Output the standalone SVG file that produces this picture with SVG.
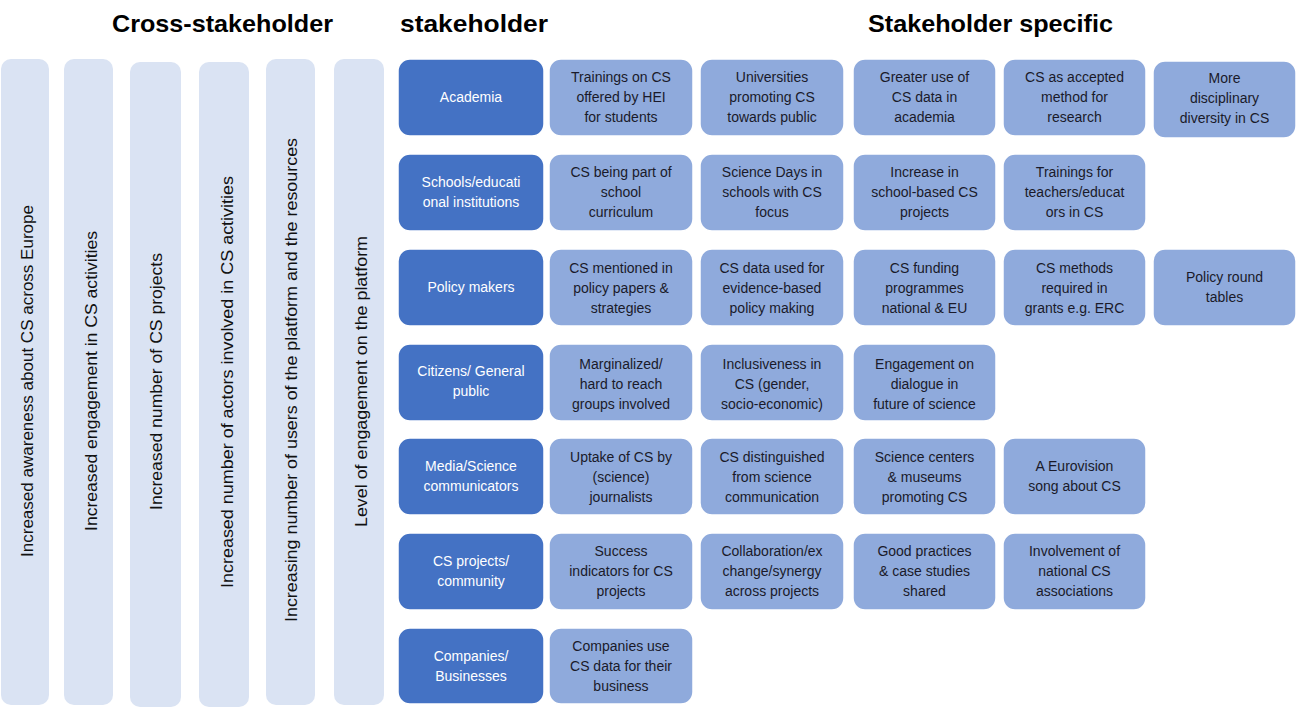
<svg xmlns="http://www.w3.org/2000/svg" width="1296" height="707" viewBox="0 0 1296 707">
<style>
.hdr{font-family:"Liberation Sans",Arial,sans-serif;font-weight:bold;font-size:24px;fill:#000}
.bar{fill:#DAE3F3}
.vt{font-family:"Liberation Sans",Arial,sans-serif;font-size:17px;fill:#111;text-anchor:middle}
.sh{fill:#4472C4;stroke:#ffffff;stroke-width:1.5}
.it{fill:#8FAADC;stroke:#ffffff;stroke-width:1.5}
.st{font-family:"Liberation Sans",Arial,sans-serif;font-size:14px;fill:#ffffff;text-anchor:middle}
.tt{font-family:"Liberation Sans",Arial,sans-serif;font-size:14px;fill:#1a1a2a;text-anchor:middle}
</style>
<rect width="1296" height="707" fill="#ffffff"/>
<g id="headers">
<text class="hdr" x="112" y="32" textLength="221" lengthAdjust="spacingAndGlyphs">Cross-stakeholder</text>
<text class="hdr" x="400" y="32" textLength="148" lengthAdjust="spacingAndGlyphs">stakeholder</text>
<text class="hdr" x="868" y="32" textLength="245" lengthAdjust="spacingAndGlyphs">Stakeholder specific</text>
</g>
<g id="cross">
<g id="bar1"><rect class="bar" x="1" y="59" width="48" height="646" rx="10"/><text class="vt" transform="translate(33,381) rotate(-90)" textLength="352" lengthAdjust="spacingAndGlyphs">Increased awareness about CS across Europe</text></g>
<g id="bar2"><rect class="bar" x="64" y="59" width="49" height="646" rx="10"/><text class="vt" transform="translate(97,381) rotate(-90)" textLength="300" lengthAdjust="spacingAndGlyphs">Increased engagement in CS activities</text></g>
<g id="bar3"><rect class="bar" x="130" y="62" width="51" height="645" rx="10"/><text class="vt" transform="translate(162,381.5) rotate(-90)" textLength="257" lengthAdjust="spacingAndGlyphs">Increased number of CS projects</text></g>
<g id="bar4"><rect class="bar" x="199" y="62" width="50" height="645" rx="10"/><text class="vt" transform="translate(233,382) rotate(-90)" textLength="412" lengthAdjust="spacingAndGlyphs">Increased number of actors involved in CS activities</text></g>
<g id="bar5"><rect class="bar" x="266" y="59" width="49" height="646" rx="10"/><text class="vt" transform="translate(297,380) rotate(-90)" textLength="484" lengthAdjust="spacingAndGlyphs">Increasing number of users of the platform and the resources</text></g>
<g id="bar6"><rect class="bar" x="334" y="59" width="50" height="646" rx="10"/><text class="vt" transform="translate(367,381.5) rotate(-90)" textLength="291" lengthAdjust="spacingAndGlyphs">Level of engagement on the platform</text></g>
</g>
<g id="connectors"></g>
<g id="row1">
<g id="academia"><rect class="sh" x="398" y="59" width="146" height="77" rx="12"/><text class="st" x="471" y="102">Academia</text></g>
<g id="r1c1"><rect class="it" x="549" y="59" width="144" height="77" rx="12"/><text class="tt"><tspan x="621" y="82">Trainings on CS</tspan><tspan x="621" y="102">offered by HEI</tspan><tspan x="621" y="122">for students</tspan></text></g>
<g id="r1c2"><rect class="it" x="700" y="59" width="144" height="77" rx="12"/><text class="tt"><tspan x="772" y="82">Universities</tspan><tspan x="772" y="102">promoting CS</tspan><tspan x="772" y="122">towards public</tspan></text></g>
<g id="r1c3"><rect class="it" x="853" y="59" width="143" height="77" rx="12"/><text class="tt"><tspan x="924.5" y="82">Greater use of</tspan><tspan x="924.5" y="102">CS data in</tspan><tspan x="924.5" y="122">academia</tspan></text></g>
<g id="r1c4"><rect class="it" x="1003" y="59" width="143" height="77" rx="12"/><text class="tt"><tspan x="1074.5" y="82">CS as accepted</tspan><tspan x="1074.5" y="102">method for</tspan><tspan x="1074.5" y="122">research</tspan></text></g>
<g id="r1c5"><rect class="it" x="1153" y="61" width="143" height="77" rx="12"/><text class="tt"><tspan x="1224.5" y="83">More</tspan><tspan x="1224.5" y="103">disciplinary</tspan><tspan x="1224.5" y="123">diversity in CS</tspan></text></g>
</g>
<g id="row2">
<g id="schools"><rect class="sh" x="398" y="154" width="146" height="77" rx="12"/><text class="st"><tspan x="471" y="187">Schools/educati</tspan><tspan x="471" y="207">onal institutions</tspan></text></g>
<g id="r2c1"><rect class="it" x="549" y="154" width="144" height="77" rx="12"/><text class="tt"><tspan x="621" y="177">CS being part of</tspan><tspan x="621" y="197">school</tspan><tspan x="621" y="217">curriculum</tspan></text></g>
<g id="r2c2"><rect class="it" x="700" y="154" width="144" height="77" rx="12"/><text class="tt"><tspan x="772" y="177">Science Days in</tspan><tspan x="772" y="197">schools with CS</tspan><tspan x="772" y="217">focus</tspan></text></g>
<g id="r2c3"><rect class="it" x="853" y="154" width="143" height="77" rx="12"/><text class="tt"><tspan x="924.5" y="177">Increase in</tspan><tspan x="924.5" y="197">school-based CS</tspan><tspan x="924.5" y="217">projects</tspan></text></g>
<g id="r2c4"><rect class="it" x="1003" y="154" width="143" height="77" rx="12"/><text class="tt"><tspan x="1074.5" y="177">Trainings for</tspan><tspan x="1074.5" y="197">teachers/educat</tspan><tspan x="1074.5" y="217">ors in CS</tspan></text></g>
</g>
<g id="row3">
<g id="policy"><rect class="sh" x="398" y="249" width="146" height="77" rx="12"/><text class="st" x="471" y="292">Policy makers</text></g>
<g id="r3c1"><rect class="it" x="549" y="249" width="144" height="77" rx="12"/><text class="tt"><tspan x="621" y="273">CS mentioned in</tspan><tspan x="621" y="293">policy papers &amp;</tspan><tspan x="621" y="313">strategies</tspan></text></g>
<g id="r3c2"><rect class="it" x="700" y="249" width="144" height="77" rx="12"/><text class="tt"><tspan x="772" y="273">CS data used for</tspan><tspan x="772" y="293">evidence-based</tspan><tspan x="772" y="313">policy making</tspan></text></g>
<g id="r3c3"><rect class="it" x="853" y="249" width="143" height="77" rx="12"/><text class="tt"><tspan x="924.5" y="273">CS funding</tspan><tspan x="924.5" y="293">programmes</tspan><tspan x="924.5" y="313">national &amp; EU</tspan></text></g>
<g id="r3c4"><rect class="it" x="1003" y="249" width="143" height="77" rx="12"/><text class="tt"><tspan x="1074.5" y="273">CS methods</tspan><tspan x="1074.5" y="293">required in</tspan><tspan x="1074.5" y="313">grants e.g. ERC</tspan></text></g>
<g id="r3c5"><rect class="it" x="1153" y="249" width="143" height="77" rx="12"/><text class="tt"><tspan x="1224.5" y="282">Policy round</tspan><tspan x="1224.5" y="302">tables</tspan></text></g>
</g>
<g id="row4">
<g id="citizens"><rect class="sh" x="398" y="344" width="146" height="77" rx="12"/><text class="st"><tspan x="471" y="376">Citizens/ General</tspan><tspan x="471" y="396">public</tspan></text></g>
<g id="r4c1"><rect class="it" x="549" y="344" width="144" height="77" rx="12"/><text class="tt"><tspan x="621" y="369">Marginalized/</tspan><tspan x="621" y="389">hard to reach</tspan><tspan x="621" y="409">groups involved</tspan></text></g>
<g id="r4c2"><rect class="it" x="700" y="344" width="144" height="77" rx="12"/><text class="tt"><tspan x="772" y="369">Inclusiveness in</tspan><tspan x="772" y="389">CS (gender,</tspan><tspan x="772" y="409">socio-economic)</tspan></text></g>
<g id="r4c3"><rect class="it" x="853" y="344" width="143" height="77" rx="12"/><text class="tt"><tspan x="924.5" y="369">Engagement on</tspan><tspan x="924.5" y="389">dialogue in</tspan><tspan x="924.5" y="409">future of science</tspan></text></g>
</g>
<g id="row5">
<g id="media"><rect class="sh" x="398" y="438" width="146" height="77" rx="12"/><text class="st"><tspan x="471" y="471">Media/Science</tspan><tspan x="471" y="491">communicators</tspan></text></g>
<g id="r5c1"><rect class="it" x="549" y="438" width="144" height="77" rx="12"/><text class="tt"><tspan x="621" y="462">Uptake of CS by</tspan><tspan x="621" y="482">(science)</tspan><tspan x="621" y="502">journalists</tspan></text></g>
<g id="r5c2"><rect class="it" x="700" y="438" width="144" height="77" rx="12"/><text class="tt"><tspan x="772" y="462">CS distinguished</tspan><tspan x="772" y="482">from science</tspan><tspan x="772" y="502">communication</tspan></text></g>
<g id="r5c3"><rect class="it" x="853" y="438" width="143" height="77" rx="12"/><text class="tt"><tspan x="924.5" y="462">Science centers</tspan><tspan x="924.5" y="482">&amp; museums</tspan><tspan x="924.5" y="502">promoting CS</tspan></text></g>
<g id="r5c4"><rect class="it" x="1003" y="438" width="143" height="77" rx="12"/><text class="tt"><tspan x="1074.5" y="471">A Eurovision</tspan><tspan x="1074.5" y="491">song about CS</tspan></text></g>
</g>
<g id="row6">
<g id="csprojects"><rect class="sh" x="398" y="533" width="146" height="77" rx="12"/><text class="st"><tspan x="471" y="566">CS projects/</tspan><tspan x="471" y="586">community</tspan></text></g>
<g id="r6c1"><rect class="it" x="549" y="533" width="144" height="77" rx="12"/><text class="tt"><tspan x="621" y="556">Success</tspan><tspan x="621" y="576">indicators for CS</tspan><tspan x="621" y="596">projects</tspan></text></g>
<g id="r6c2"><rect class="it" x="700" y="533" width="144" height="77" rx="12"/><text class="tt"><tspan x="772" y="556">Collaboration/ex</tspan><tspan x="772" y="576">change/synergy</tspan><tspan x="772" y="596">across projects</tspan></text></g>
<g id="r6c3"><rect class="it" x="853" y="533" width="143" height="77" rx="12"/><text class="tt"><tspan x="924.5" y="556">Good practices</tspan><tspan x="924.5" y="576">&amp; case studies</tspan><tspan x="924.5" y="596">shared</tspan></text></g>
<g id="r6c4"><rect class="it" x="1003" y="533" width="143" height="77" rx="12"/><text class="tt"><tspan x="1074.5" y="556">Involvement of</tspan><tspan x="1074.5" y="576">national CS</tspan><tspan x="1074.5" y="596">associations</tspan></text></g>
</g>
<g id="row7">
<g id="companies"><rect class="sh" x="398" y="628" width="146" height="76" rx="12"/><text class="st"><tspan x="471" y="661">Companies/</tspan><tspan x="471" y="681">Businesses</tspan></text></g>
<g id="r7c1"><rect class="it" x="549" y="628" width="144" height="76" rx="12"/><text class="tt"><tspan x="621" y="651">Companies use</tspan><tspan x="621" y="671">CS data for their</tspan><tspan x="621" y="691">business</tspan></text></g>
</g>
</svg>
